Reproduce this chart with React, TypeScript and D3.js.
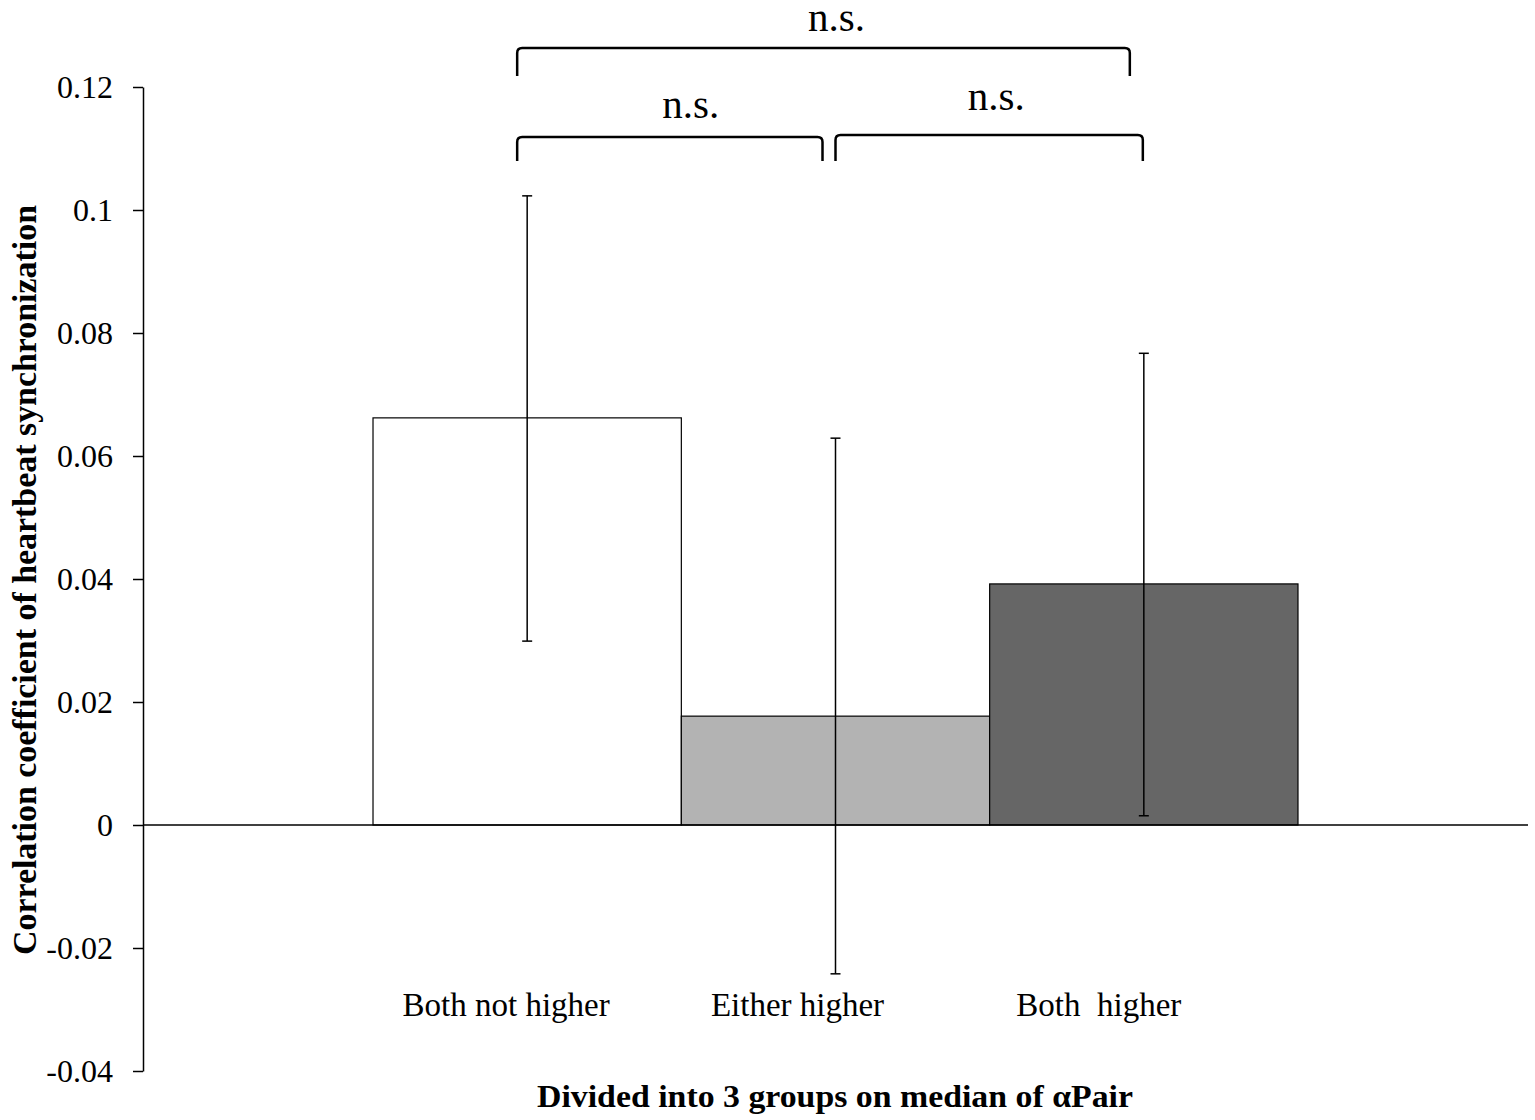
import React, { useEffect, useRef } from 'react';
import * as d3 from 'd3';

// 막대 데이터
const categories = ['Both not higher', 'Either higher', 'Both  higher'];
const means = [0.0662, 0.0177, 0.0392];
const errUpper = [0.1023, 0.0629, 0.0767];
const errLower = [0.0299, -0.0242, 0.0015];
const barFills = ['#ffffff', '#b3b3b3', '#666666'];
const yTicks = [-0.04, -0.02, 0, 0.02, 0.04, 0.06, 0.08, 0.1, 0.12];

// 유의성 비교 (막대 인덱스)
const comparisons = [
  { a: 0, b: 2, label: 'n.s.' },
  { a: 0, b: 1, label: 'n.s.' },
  { a: 1, b: 2, label: 'n.s.' },
];

const App: React.FC = () => {
  const svgRef = useRef<SVGSVGElement | null>(null);

  useEffect(() => {
    document.body.style.margin = '0';
    if (!svgRef.current) return;

    const width = 1535;
    const height = 1120;
    const font = '"Liberation Serif", "Times New Roman", serif';

    const svg = d3.select(svgRef.current)
      .attr('width', width)
      .attr('height', height)
      .style('display', 'block')
      .style('background', '#fff');
    svg.selectAll('*').remove();

    const axisX = 143;
    const x = d3.scaleBand<string>()
      .domain(categories)
      .range([axisX, 1528])
      .paddingInner(0)
      .paddingOuter(0.746);

    const y = d3.scaleLinear().domain([-0.04, 0.12]).range([1071, 87]);

    // y축
    const yAxis = svg.append('g')
      .attr('transform', `translate(${axisX},0)`)
      .call(d3.axisLeft(y)
        .tickValues(yTicks)
        .tickSizeInner(10)
        .tickSizeOuter(0)
        .tickPadding(20)
        .tickFormat(d => String(+(+d).toFixed(2))));
    yAxis.select('.domain').attr('stroke', '#000').attr('stroke-width', 1.5);
    yAxis.selectAll('.tick line').attr('stroke', '#000').attr('stroke-width', 1.5);
    yAxis.selectAll('.tick text')
      .attr('fill', '#000')
      .style('font-family', font)
      .style('font-size', '32px');

    // 막대
    svg.append('g')
      .selectAll('rect')
      .data(categories)
      .join('rect')
      .attr('x', d => x(d)!)
      .attr('y', (_, i) => y(Math.max(0, means[i])))
      .attr('width', x.bandwidth())
      .attr('height', (_, i) => Math.abs(y(means[i]) - y(0)))
      .attr('fill', (_, i) => barFills[i])
      .attr('stroke', '#000')
      .attr('stroke-width', 1.2);

    // x축 (0 기준선)
    svg.append('line')
      .attr('x1', axisX).attr('x2', 1528)
      .attr('y1', y(0)).attr('y2', y(0))
      .attr('stroke', '#000').attr('stroke-width', 1.5);

    // 오차 막대
    const errG = svg.append('g').attr('stroke', '#000').attr('stroke-width', 1.5);
    categories.forEach((c, i) => {
      const cx = x(c)! + x.bandwidth() / 2;
      errG.append('line').attr('x1', cx).attr('x2', cx).attr('y1', y(errUpper[i])).attr('y2', y(errLower[i]));
      errG.append('line').attr('x1', cx - 5).attr('x2', cx + 5).attr('y1', y(errUpper[i])).attr('y2', y(errUpper[i]));
      errG.append('line').attr('x1', cx - 5).attr('x2', cx + 5).attr('y1', y(errLower[i])).attr('y2', y(errLower[i]));
    });

    // 카테고리 라벨 (원본처럼 약간 왼쪽으로 치우침)
    const labelDx = [-21, -38, -45];
    svg.append('g')
      .selectAll('text')
      .data(categories)
      .join('text')
      .attr('x', (d, i) => x(d)! + x.bandwidth() / 2 + labelDx[i])
      .attr('y', 1016)
      .attr('text-anchor', 'middle')
      .style('font-family', font)
      .style('font-size', '33px')
      .style('white-space', 'pre')
      .text(d => d);

    // 유의성 괄호
    const center = (i: number) => x(categories[i])! + x.bandwidth() / 2;
    const bracketLayout = [
      { top: 48, bottom: 76, dx1: -10, dx2: -14, ty: 31, tdx: 13 },
      { top: 137, bottom: 161, dx1: -10, dx2: -13, ty: 118, tdx: 21 },
      { top: 135, bottom: 161, dx1: 0, dx2: -1, ty: 110, tdx: 7 },
    ];
    const r = 5;
    comparisons.forEach((c, k) => {
      const L = bracketLayout[k];
      const x1 = center(c.a) + L.dx1;
      const x2 = center(c.b) + L.dx2;
      const p = d3.path();
      p.moveTo(x1, L.bottom);
      p.lineTo(x1, L.top + r);
      p.quadraticCurveTo(x1, L.top, x1 + r, L.top);
      p.lineTo(x2 - r, L.top);
      p.quadraticCurveTo(x2, L.top, x2, L.top + r);
      p.lineTo(x2, L.bottom);
      svg.append('path')
        .attr('d', p.toString())
        .attr('fill', 'none')
        .attr('stroke', '#000')
        .attr('stroke-width', 2.5);
      svg.append('text')
        .attr('x', (x1 + x2) / 2 + L.tdx)
        .attr('y', L.ty)
        .attr('text-anchor', 'middle')
        .style('font-family', font)
        .style('font-size', '41px')
        .text(c.label);
    });

    // 축 제목
    svg.append('text')
      .attr('transform', `translate(36,580) rotate(-90)`)
      .attr('text-anchor', 'middle')
      .attr('textLength', 750)
      .attr('lengthAdjust', 'spacingAndGlyphs')
      .style('font-family', font)
      .style('font-size', '33px')
      .style('font-weight', 'bold')
      .text('Correlation coefficient of heartbeat synchronization');

    svg.append('text')
      .attr('x', 835)
      .attr('y', 1107)
      .attr('text-anchor', 'middle')
      .attr('textLength', 596)
      .attr('lengthAdjust', 'spacingAndGlyphs')
      .style('font-family', font)
      .style('font-size', '32px')
      .style('font-weight', 'bold')
      .text('Divided into 3 groups on median of αPair');
  }, []);

  return <svg ref={svgRef}></svg>;
};

export default App;
